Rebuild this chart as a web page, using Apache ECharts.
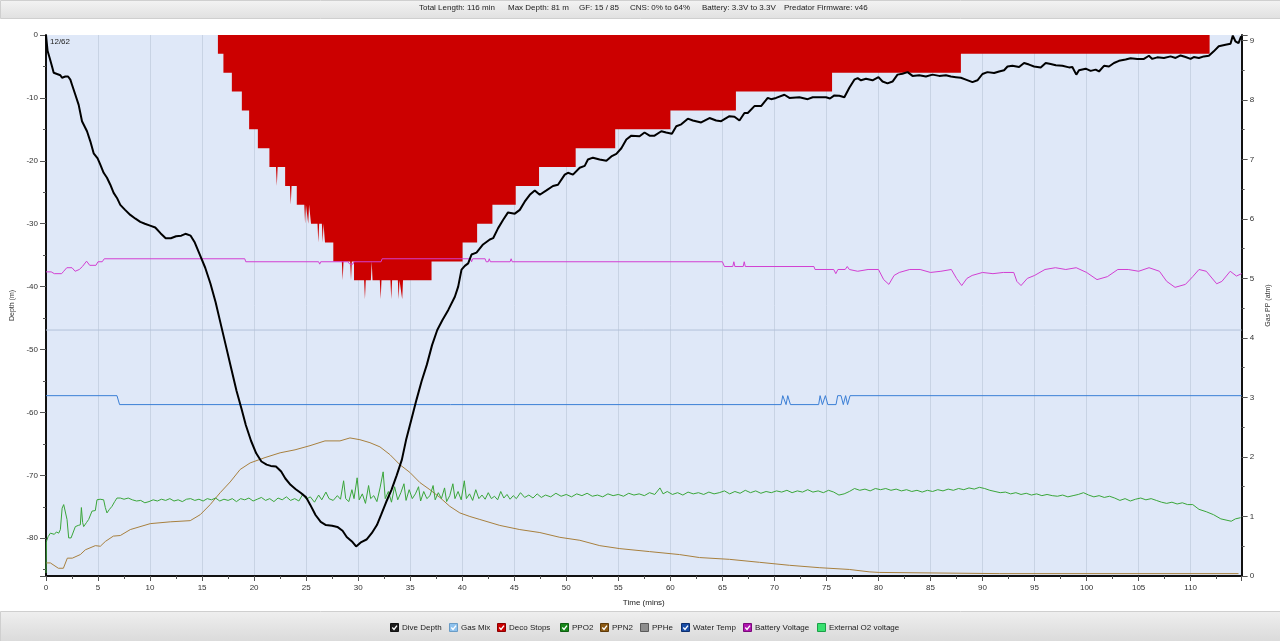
<!DOCTYPE html>
<html><head><meta charset="utf-8">
<script src="https://cdn.jsdelivr.net/npm/echarts@6/dist/echarts.min.js"></script>
<style>html,body{margin:0;padding:0;background:#fff;}#c{width:1280px;height:641px;}</style>
</head><body><div id="c"></div>
<script>
const headerItems = ['Total Length: 116 min','Max Depth: 81 m','GF: 15 / 85','CNS: 0% to 64%','Battery: 3.3V to 3.3V','Predator Firmware: v46'];
const legendNames = ['Dive Depth','Gas Mix','Deco Stops','PPO2','PPN2','PPHe','Water Temp','Battery Voltage','External O2 voltage'];
const legendChecked = [true,true,true,true,true,false,true,true,false];
const gasMixLabel = '12/62';

const depthTime = [0,0.15,0.36,0.58,0.74,1.06,1.38,1.54,1.86,2.12,2.34,2.5,2.82,3.14,3.46,3.94,4.26,4.58,4.96,5.22,5.54,5.86,6.18,6.5,6.82,7.14,7.6,8.1,8.6,9.06,9.5,10.0,10.5,11.0,11.5,12.0,12.5,13.0,13.4,13.9,14.3,14.8,15.3,15.8,16.3,16.8,17.3,17.8,18.3,18.8,19.2,19.7,20.2,20.7,21.2,21.6,22.1,22.6,23.0,23.5,24.0,24.5,25.0,25.4,25.9,26.4,26.9,27.5,28.0,28.5,28.9,29.4,29.8,30.3,30.8,31.3,31.8,32.2,32.7,33.2,33.7,34.2,34.6,35.1,35.6,36.1,36.6,37.1,37.6,38.1,38.66,39.29,39.61,39.93,40.25,40.57,40.89,41.37,42.0,42.65,42.97,43.45,43.92,44.4,45.05,45.53,46.0,46.49,46.97,47.45,48.09,48.72,49.2,49.85,50.16,50.64,51.29,51.77,52.08,52.56,53.2,53.85,54.33,54.81,55.29,55.77,56.25,57.04,57.52,58.0,58.48,59.13,59.6,60.15,60.57,61.05,61.68,62.16,62.96,63.76,64.4,64.88,65.68,66.16,66.64,67.12,67.44,68.08,68.72,69.36,69.68,70.16,70.96,71.44,72.4,73.2,73.68,74.96,75.34,75.76,76.24,76.72,77.2,77.68,78.0,78.32,78.8,79.43,80.0,80.39,80.87,81.35,81.83,82.3,82.8,83.27,83.91,84.56,85.19,85.83,86.48,86.96,87.44,87.92,88.4,89.03,89.51,89.99,90.47,91.11,91.59,92.07,92.4,92.87,93.51,93.99,94.47,94.95,95.59,96.07,96.55,97.04,97.67,98.31,98.63,99.01,99.27,99.91,100.39,100.87,101.19,101.67,102.15,102.63,103.11,103.75,104.23,104.87,105.51,105.99,106.31,106.79,107.43,108.07,108.55,109.03,109.51,109.99,110.3,110.79,111.27,111.75,112.22,112.7,113.35,113.83,114.05,114.3,114.6,114.85];
const depthValue = [0,2.5,3.7,5.0,6.0,6.2,6.4,6.8,6.6,6.6,7.1,7.9,9.5,11.1,13.7,15.3,16.9,18.8,19.6,20.6,21.9,22.7,23.8,25.1,25.9,27.0,27.8,28.6,29.2,29.7,30.0,30.3,30.6,31.5,32.3,32.3,32.0,31.9,31.6,31.9,33.0,35.0,37.0,39.5,42.5,46.0,49.5,53.0,56.5,59.5,62.0,64.5,66.5,67.8,68.3,68.5,68.6,69.4,70.5,71.5,72.2,72.8,73.5,74.7,76.3,77.4,77.9,78.0,78.2,78.8,79.8,80.5,81.3,80.6,80.2,79.2,77.9,76.3,74.2,72.3,70.0,67.5,64.4,61.2,58.0,55.0,52.4,49.3,46.9,45.3,43.7,41.6,40.0,37.3,36.7,36.3,34.9,34.6,33.3,32.5,32.3,30.7,29.4,28.2,28.4,27.8,26.5,25.4,24.7,25.4,24.7,24.0,23.8,22.2,21.9,22.2,21.1,20.8,19.8,19.5,19.8,20.0,19.3,18.9,18.0,16.6,16.0,16.1,15.5,16.0,16.0,15.3,15.5,15.7,14.5,14.2,13.3,13.6,13.9,13.2,13.6,13.7,12.9,13.0,13.6,12.4,12.4,11.3,11.3,10.0,10.2,10.0,9.5,10.0,9.9,10.2,9.9,9.9,10.1,9.6,9.65,9.9,8.4,7.1,6.85,7.2,6.95,7.2,6.7,7.4,7.7,7.4,6.3,6.15,5.9,6.5,6.4,6.6,6.3,6.5,6.4,6.6,6.7,6.8,7.1,7.5,7.2,6.2,5.9,6.05,5.8,5.6,5.0,4.9,5.1,4.45,4.7,5.0,5.15,4.45,4.6,4.8,4.9,5.15,5.1,6.3,5.6,5.35,5.7,5.5,5.8,4.9,5.0,4.45,4.1,3.9,3.7,3.8,3.8,3.3,3.8,3.55,3.65,3.4,3.65,3.25,3.5,3.8,3.5,3.65,3.4,3.3,2.6,1.8,1.55,1.4,0.1,1.0,1.3,0.2];

const decoTime = [16.52,16.52,17.05,17.05,17.86,17.86,18.82,18.82,19.52,19.52,20.36,20.36,21.47,21.47,22.1,22.18,22.26,22.98,22.98,23.44,23.52,23.6,24.1,24.1,24.82,24.9,24.98,25.12,25.2,25.28,25.47,25.47,26.09,26.17,26.25,26.51,26.59,26.67,26.81,26.81,27.61,27.61,28.43,28.51,28.59,29.23,29.31,29.39,29.6,29.6,30.57,30.65,30.73,31.22,31.3,31.38,32.08,32.16,32.24,33.1,33.18,33.26,33.81,33.89,33.97,34.15,34.23,34.31,37.05,37.05,40.03,40.03,41.43,41.43,42.9,42.9,45.14,45.14,47.38,47.38,50.9,50.9,54.7,54.7,60.0,60.0,66.3,66.3,75.54,75.54,87.92,87.92,111.82,111.82];
const decoDepth = [0,3,3,6,6,9,9,12,12,15,15,18,18,21,21,24,21,21,24,24,27,24,24,27,27,30,27,27,30,27,27,30,30,33,30,30,33,30,30,33,33,36,36,39,36,36,39,36,36,39,39,42,39,39,36,39,39,42,39,39,42,39,39,42,39,39,42,39,39,36,36,33,33,30,30,27,27,24,24,21,21,18,18,15,15,12,12,9,9,6,6,3,3,0];

const gasMixTime = [0,114.9];
const gasMixValue = [46.9,46.9];

const ppo2Time = [0,0.04,0.2,0.42,0.8,1.0,1.22,1.38,1.55,1.7,1.86,2.02,2.18,2.41,2.82,3.1,3.3,3.4,3.52,3.62,3.9,4.1,4.42,4.6,4.74,4.9,5.2,5.54,5.7,5.86,6.1,6.34,6.6,6.82,7.14,7.5,7.9,8.3,8.7,9.1,9.5,9.9,10.3,10.7,11.1,11.5,11.9,12.3,12.7,13.1,13.5,13.9,14.3,14.7,15.1,15.5,15.9,16.3,16.7,17.1,17.5,17.9,18.3,18.7,19.1,19.5,19.9,20.3,20.7,21.1,21.5,21.9,22.3,22.7,23.1,23.5,23.9,24.3,24.7,25.0,25.4,25.8,26.2,26.5,26.9,27.2,27.6,28.0,28.3,28.6,28.8,29.1,29.4,29.6,29.9,30.1,30.4,30.7,31.0,31.2,31.5,31.8,32.1,32.4,32.6,32.9,33.2,33.5,33.8,34.1,34.4,34.6,34.9,35.2,35.5,35.8,36.0,36.3,36.6,36.9,37.2,37.4,37.7,38.0,38.3,38.5,38.8,39.1,39.3,39.6,39.9,40.2,40.4,40.7,41.0,41.3,41.6,41.9,42.2,42.5,42.8,43.1,43.4,43.7,44.0,44.3,44.6,44.9,45.2,45.6,46.0,46.4,46.8,47.2,47.6,48.0,48.5,49.0,49.5,50.0,50.5,51.0,51.5,52.0,52.5,53.0,53.5,54.0,54.5,55.0,55.5,56.0,56.5,57.0,57.5,58.0,58.5,59.0,59.3,59.7,60.2,60.7,61.2,61.7,62.2,62.7,63.2,63.7,64.2,64.7,65.2,65.7,66.2,66.7,67.2,67.7,68.2,68.7,69.2,69.7,70.2,70.7,71.2,71.7,72.2,72.7,73.2,73.7,74.2,74.7,75.2,75.7,76.2,76.7,77.2,77.7,78.2,78.7,79.2,79.7,80.2,80.7,81.2,81.7,82.2,82.7,83.2,83.7,84.2,84.7,85.2,85.7,86.2,86.7,87.2,87.7,88.2,88.7,89.2,89.7,90.2,90.7,91.2,91.7,92.2,92.7,93.2,93.7,94.2,94.7,95.2,95.7,96.2,96.7,97.2,97.7,98.2,98.7,99.2,99.7,100.2,100.7,101.2,101.7,102.2,102.7,103.2,103.7,104.2,104.7,105.2,105.7,106.2,106.7,107.2,107.7,108.2,108.7,109.2,109.7,110.2,110.8,111.5,112.2,112.9,113.4,113.9,114.3,114.8];
const ppo2Value = [0.05,0.58,0.66,0.72,0.70,0.74,0.72,0.78,1.14,1.2,1.23,0.95,0.64,0.64,0.83,0.85,0.86,1.15,0.9,0.83,0.9,0.95,1.09,1.07,1.1,1.28,1.29,1.28,1.15,1.06,1.12,1.17,1.25,1.31,1.31,1.29,1.31,1.28,1.26,1.27,1.23,1.25,1.28,1.26,1.29,1.27,1.3,1.26,1.28,1.25,1.29,1.3,1.27,1.29,1.26,1.3,1.28,1.31,1.26,1.29,1.27,1.3,1.25,1.3,1.28,1.31,1.26,1.29,1.32,1.27,1.3,1.25,1.31,1.28,1.33,1.27,1.3,1.26,1.38,1.29,1.33,1.24,1.36,1.28,1.41,1.3,1.27,1.35,1.29,1.6,1.3,1.25,1.45,1.3,1.65,1.28,1.38,1.22,1.52,1.3,1.35,1.25,1.48,1.75,1.3,1.42,1.24,1.5,1.28,1.4,1.55,1.27,1.45,1.3,1.38,1.5,1.26,1.42,1.3,1.35,1.52,1.28,1.4,1.3,1.48,1.25,1.35,1.55,1.3,1.42,1.28,1.6,1.3,1.38,1.27,1.45,1.3,1.36,1.29,1.4,1.3,1.34,1.28,1.42,1.31,1.37,1.29,1.35,1.3,1.4,1.32,1.36,1.31,1.38,1.32,1.36,1.33,1.39,1.34,1.37,1.33,1.38,1.35,1.39,1.34,1.36,1.33,1.38,1.35,1.37,1.34,1.39,1.36,1.38,1.35,1.4,1.37,1.48,1.38,1.42,1.37,1.4,1.36,1.41,1.38,1.4,1.37,1.41,1.38,1.4,1.43,1.38,1.42,1.39,1.44,1.4,1.43,1.39,1.42,1.4,1.43,1.41,1.44,1.4,1.43,1.41,1.45,1.41,1.43,1.4,1.44,1.41,1.36,1.38,1.42,1.47,1.44,1.46,1.43,1.47,1.45,1.47,1.44,1.46,1.43,1.45,1.42,1.44,1.41,1.44,1.42,1.45,1.43,1.46,1.44,1.47,1.45,1.48,1.46,1.49,1.47,1.44,1.42,1.4,1.41,1.38,1.4,1.37,1.39,1.36,1.38,1.35,1.37,1.35,1.34,1.36,1.33,1.35,1.37,1.4,1.36,1.33,1.35,1.32,1.34,1.31,1.27,1.3,1.26,1.29,1.31,1.28,1.3,1.27,1.24,1.22,1.24,1.21,1.23,1.2,1.2,1.12,1.08,1.03,0.96,0.94,0.92,0.96,0.98];

const ppn2Time = [0,0.42,1.19,1.67,2.05,2.53,3.3,3.78,4.74,5.22,5.7,6.47,7.14,8.1,10.02,11.94,13.86,14.82,15.78,16.74,17.7,18.66,19.62,21.05,22.5,23.93,25.37,26.81,28.25,29.21,30.17,31.13,32.09,33.05,34.01,34.97,35.93,36.89,37.85,38.81,39.77,40.73,41.69,43.61,45.53,47.46,49.38,51.3,53.22,55.14,58.0,60.88,62.8,65.68,68.56,71.44,74.3,77.2,79.1,80.07,91.6,114.6];
const ppn2Value = [0.22,0.22,0.13,0.13,0.30,0.30,0.36,0.44,0.51,0.50,0.58,0.67,0.68,0.78,0.88,0.91,0.93,1.03,1.2,1.4,1.58,1.79,1.9,1.99,2.07,2.12,2.19,2.27,2.27,2.32,2.29,2.24,2.17,2.04,1.87,1.74,1.57,1.45,1.32,1.17,1.06,1.0,0.95,0.85,0.78,0.73,0.65,0.6,0.51,0.46,0.41,0.36,0.31,0.28,0.23,0.18,0.14,0.11,0.07,0.06,0.04,0.04];

const tempTime = [0,6.82,7.07,70.64,70.8,70.96,71.12,71.28,71.54,74.25,74.39,74.61,74.78,74.9,75.13,75.92,76.08,76.4,76.62,76.84,77.03,77.27,114.9];
const tempValue = [3.03,3.03,2.88,2.88,3.03,3.03,2.88,3.03,2.88,2.88,3.03,2.88,2.88,3.03,2.88,2.88,3.03,3.03,2.88,3.03,2.88,3.03,3.03];

const battTime = [0,0.5,0.8,1.5,1.7,2.0,2.5,2.8,3.2,3.5,3.9,4.0,4.2,4.8,5.0,5.4,5.6,19.1,19.2,26.2,26.3,26.4,29.0,29.2,29.5,29.6,32.2,32.3,40.8,40.9,41.0,42.2,42.3,42.5,42.6,42.7,44.6,44.7,44.8,65.0,65.2,66.0,66.1,66.2,67.0,67.1,67.2,73.8,73.9,75.7,75.9,76.1,76.8,77.0,77.2,78.0,79.0,80.0,80.5,81.0,81.5,82.0,83.0,84.0,85.0,86.0,87.0,87.5,88.0,88.5,89.0,90.0,91.0,92.0,93.0,93.3,93.7,94.3,95.0,96.0,97.0,98.0,99.0,100.0,101.0,102.0,103.0,104.0,105.0,106.0,107.0,107.7,108.5,109.5,110.2,110.8,111.5,112.5,113.0,113.8,114.4,114.9];
const battValue = [5.11,5.11,5.08,5.08,5.12,5.18,5.18,5.12,5.15,5.2,5.29,5.28,5.22,5.22,5.28,5.28,5.33,5.33,5.28,5.28,5.24,5.28,5.28,5.24,5.24,5.28,5.28,5.33,5.33,5.28,5.33,5.33,5.28,5.28,5.33,5.28,5.28,5.33,5.28,5.28,5.2,5.2,5.28,5.2,5.2,5.28,5.2,5.2,5.15,5.15,5.08,5.15,5.15,5.2,5.15,5.12,5.15,5.15,4.98,4.9,5.05,5.1,5.15,5.15,5.1,5.12,5.15,5.0,4.88,5.0,5.05,5.1,5.08,5.1,5.1,4.95,4.88,5.0,5.05,5.15,5.18,5.15,5.18,5.1,4.98,5.03,5.15,5.15,5.12,5.18,5.12,4.95,4.85,4.9,5.03,5.15,5.12,4.91,4.95,5.12,5.04,5.08];

const xLabelStep = 5;
</script>
<script>
const chart = echarts.init(document.getElementById('c'));
const zip = (a,b) => a.map((v,i)=>[v,b[i]]);
const FONT = '"Liberation Sans", Arial, sans-serif';
const legendColors = ['#1e1e1e','#8ec2ee','#cc0000','#17871a','#8c5a14','#8e8e8e','#1a4ea6','#b014b0','#39e070'];
const legendBorders = ['#111','#6a9cc6','#8a0000','#0e5e10','#5e3a08','#5a5a5a','#0d2f6e','#7a0a7a','#1aa048'];
const legendX = [390,449,497,560,600,640,681,743,817];
const headerX = [419,508,579,630,702,784];

const graphics = [
  {type:'rect', left:0, top:0, shape:{width:1280,height:18}, style:{fill:new echarts.graphic.LinearGradient(0,0,0,1,[{offset:0,color:'#f3f3f3'},{offset:1,color:'#e0e0e0'}]), stroke:'#cfcfcf', lineWidth:1}, silent:true, z:-10},
  {type:'rect', left:0, top:611, shape:{width:1280,height:30}, style:{fill:new echarts.graphic.LinearGradient(0,0,0,1,[{offset:0,color:'#efefef'},{offset:1,color:'#dadada'}]), stroke:'#cfcfcf', lineWidth:1}, silent:true, z:-10},
  {type:'text', left:50, top:38, style:{text:gasMixLabel, font:'8px '+FONT, fill:'#222'}, z:100}
];
headerItems.forEach((t,i)=>graphics.push({type:'text', left:headerX[i], top:4, style:{text:t, font:'8px '+FONT, fill:'#222'}}));
legendNames.forEach((n,i)=>{
  const x = legendX[i], y = 623;
  const children = [
    {type:'rect', shape:{x:x+0.5, y:y+0.5, width:8, height:8}, style:{fill:legendColors[i], stroke:legendBorders[i], lineWidth:1}},
    {type:'text', style:{text:n, x:x+12, y:y+4.5, font:'8px '+FONT, fill:'#222', verticalAlign:'middle'}}
  ];
  if (legendChecked[i]) children.push({type:'polyline', shape:{points:[[x+2.3,y+4.6],[x+4,y+6.4],[x+7,y+2.6]]}, style:{stroke:'#fff', lineWidth:1.4, fill:null}});
  graphics.push({type:'group', children});
});

const option = {
  animation:false,
  backgroundColor:'#ffffff',
  textStyle:{fontFamily:FONT},
  graphic:graphics,
  grid:{left:46, right:38, top:35, bottom:65, show:true, backgroundColor:'#dfe8f8', borderWidth:0},
  xAxis:{
    type:'value', min:0, max:114.9, interval:5, position:'bottom',
    name:'Time (mins)', nameLocation:'middle', nameGap:23, nameTextStyle:{fontSize:8, color:'#222'},
    axisLine:{onZero:false, lineStyle:{color:'#111', width:2}},
    axisTick:{length:5, lineStyle:{color:'#555'}},
    minorTick:{show:true, splitNumber:2, length:3, lineStyle:{color:'#555'}},
    axisLabel:{fontSize:8, color:'#333', margin:8, formatter:v=> (Math.abs(v % xLabelStep) < 1e-6 && v < 114) ? String(v) : ''},
    splitLine:{show:true, lineStyle:{color:'#c8d3e4', width:1}}
  },
  yAxis:[
    {type:'value', inverse:true, min:0, max:86, interval:10, position:'left',
     name:'Depth (m)', nameLocation:'middle', nameGap:28, nameTextStyle:{fontSize:7, color:'#333'},
     axisLine:{show:true, onZero:false, lineStyle:{color:'#111', width:2}},
     axisTick:{show:true, length:6, lineStyle:{color:'#555'}},
     minorTick:{show:true, splitNumber:2, length:3, lineStyle:{color:'#555'}},
     axisLabel:{fontSize:8, color:'#333', formatter:v=> (v % 10 === 0) ? (v===0?'0':'-'+v) : ''},
     splitLine:{show:false}},
    {type:'value', min:0, max:9.09, interval:1, position:'right',
     name:'Gas PP (atm)', nameLocation:'middle', nameGap:22, nameTextStyle:{fontSize:7, color:'#333'},
     axisLine:{show:true, onZero:false, lineStyle:{color:'#111', width:2}},
     axisTick:{show:true, length:6, lineStyle:{color:'#555'}},
     minorTick:{show:true, splitNumber:2, length:3, lineStyle:{color:'#555'}},
     axisLabel:{fontSize:8, color:'#333', formatter:v=> Number.isInteger(v) ? String(v) : ''},
     splitLine:{show:false}}
  ],
  series:[
    {name:'Deco Stops', type:'line', yAxisIndex:0, data:zip(decoTime,decoDepth), showSymbol:false, symbol:'none',
     lineStyle:{width:0, color:'#cc0000'}, itemStyle:{color:'#cc0000'}, areaStyle:{color:'#cc0000', opacity:1, origin:'start'}, z:2},
    {name:'Gas Mix', type:'line', yAxisIndex:0, data:zip(gasMixTime,gasMixValue), symbol:'none', lineStyle:{width:1, color:'#b3c2d9'}, z:1},
    {name:'Water Temp', type:'line', yAxisIndex:1, data:zip(tempTime,tempValue), symbol:'none', lineStyle:{width:1, color:'#3b7fd6'}, z:3},
    {name:'Battery Voltage', type:'line', yAxisIndex:1, data:zip(battTime,battValue), symbol:'none', lineStyle:{width:1, color:'#d23fd2'}, z:3},
    {name:'PPN2', type:'line', yAxisIndex:1, data:zip(ppn2Time,ppn2Value), symbol:'none', lineStyle:{width:1, color:'#a8803e'}, z:3},
    {name:'PPO2', type:'line', yAxisIndex:1, data:zip(ppo2Time,ppo2Value), symbol:'none', lineStyle:{width:1, color:'#3aa63a'}, z:3},
    {name:'Dive Depth', type:'line', yAxisIndex:0, data:zip(depthTime,depthValue), symbol:'none', lineStyle:{width:2, color:'#000'}, z:5}
  ]
};
chart.setOption(option);
</script></body></html>
